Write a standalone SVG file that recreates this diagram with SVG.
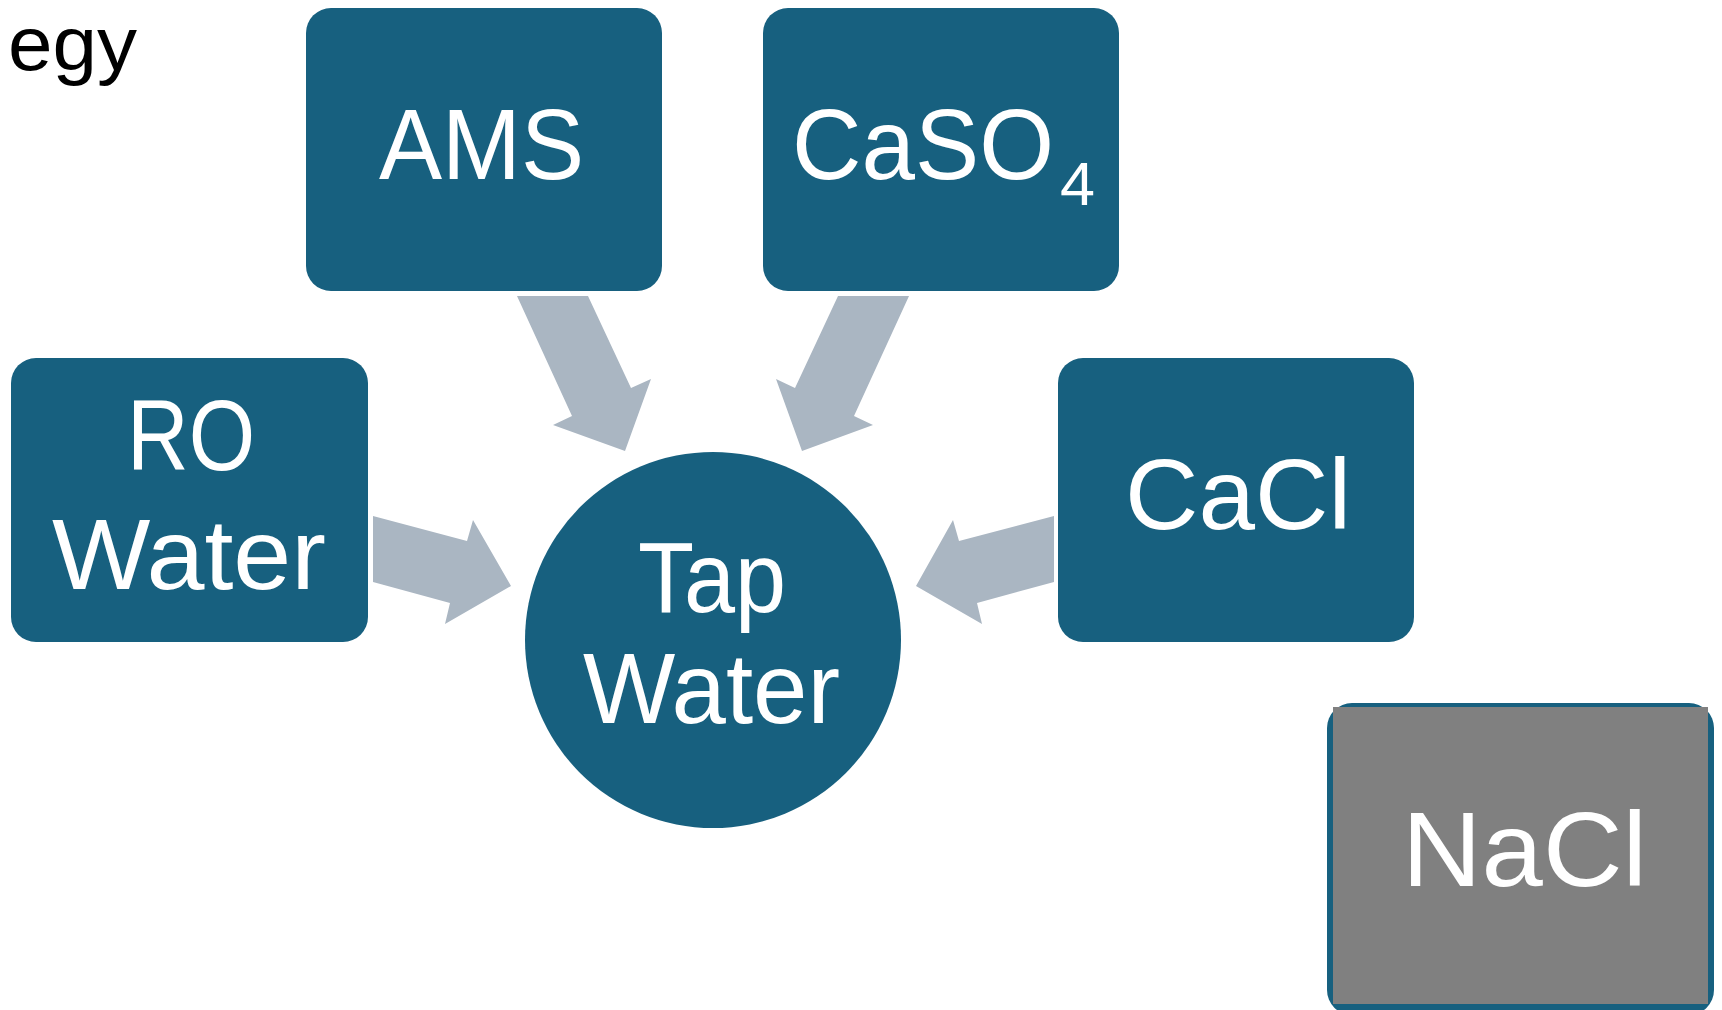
<svg xmlns="http://www.w3.org/2000/svg" width="1722" height="1010" viewBox="0 0 1722 1010">
<style>
.box{fill:#17607f}
.lbl{font-family:"Liberation Sans",Arial,sans-serif;fill:#ffffff;font-size:100px}
.arr{fill:#aab6c2}
</style>
<rect width="1722" height="1010" fill="#ffffff"/>
<text x="8" y="70" font-family="Liberation Sans, Arial, sans-serif" font-size="76" fill="#000000" textLength="129" lengthAdjust="spacingAndGlyphs">egy</text>
<g id="connectors">
<polygon class="arr" points="517,296 588,296 631,388 651,379 625,451 553,425 572,416"/>
<polygon class="arr" points="909,296 838,296 795,388 776,379 802,451 873,425 854,416"/>
<polygon class="arr" points="373,516 467,541 473,520 511,586 445,624 450,603 373,582"/>
<polygon class="arr" points="1054,516 959,541 953,520 916,586 982,624 977,603 1054,582"/>
</g>
<g id="ams">
<rect class="box" x="306" y="8" width="356" height="283" rx="25"/>
<text class="lbl" x="379" y="179" textLength="205" lengthAdjust="spacingAndGlyphs">AMS</text>
</g>
<g id="caso4">
<rect class="box" x="763" y="8" width="356" height="283" rx="25"/>
<text class="lbl" x="792" y="179" textLength="262" lengthAdjust="spacingAndGlyphs">CaSO</text>
<text class="lbl" x="1060" y="205" style="font-size:61px" textLength="35" lengthAdjust="spacingAndGlyphs">4</text>
</g>
<g id="ro-water">
<rect class="box" x="11" y="358" width="357" height="284" rx="25"/>
<text class="lbl" x="127" y="470" textLength="128" lengthAdjust="spacingAndGlyphs">RO</text>
<text class="lbl" x="52" y="589" textLength="274" lengthAdjust="spacingAndGlyphs">Water</text>
</g>
<g id="cacl">
<rect class="box" x="1058" y="358" width="356" height="284" rx="25"/>
<text class="lbl" x="1125" y="529" textLength="226" lengthAdjust="spacingAndGlyphs">CaCl</text>
</g>
<g id="tap-water">
<circle class="box" cx="713" cy="640" r="188"/>
<text class="lbl" x="638" y="612" textLength="148" lengthAdjust="spacingAndGlyphs">Tap</text>
<text class="lbl" x="583" y="723" textLength="257" lengthAdjust="spacingAndGlyphs">Water</text>
</g>
<g id="nacl">
<rect class="box" x="1327" y="703" width="387" height="312" rx="25"/>
<rect x="1333" y="707" width="375" height="297" fill="#808080"/>
<text class="lbl" x="1402" y="886" style="font-size:105px" textLength="245" lengthAdjust="spacingAndGlyphs">NaCl</text>
</g>
</svg>
